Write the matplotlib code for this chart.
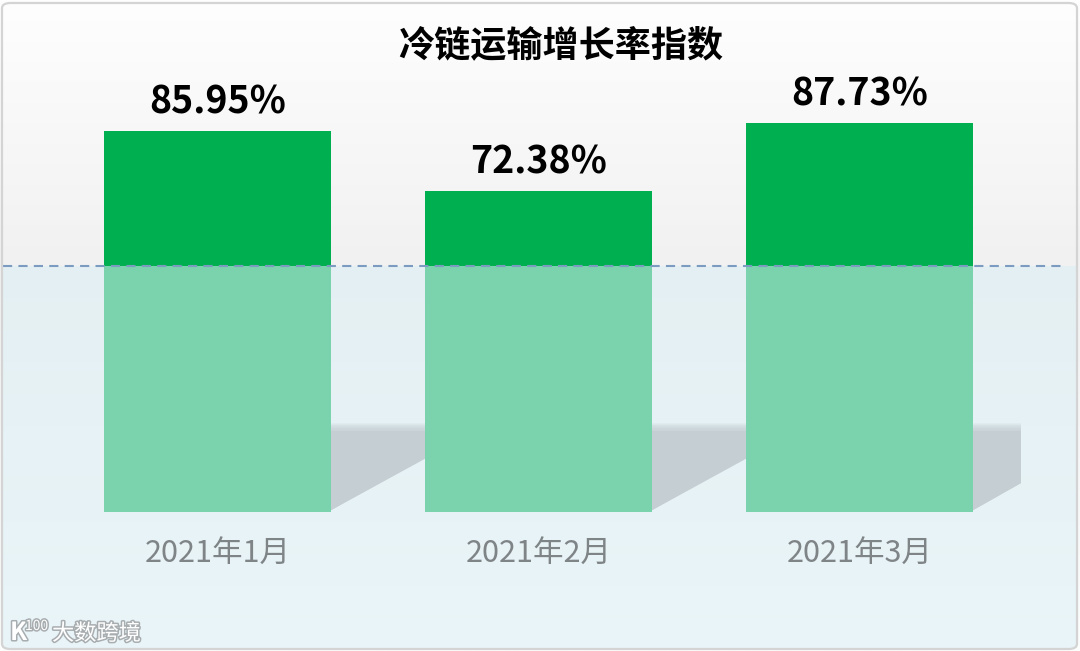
import matplotlib
matplotlib.use("Agg")
import matplotlib.pyplot as plt
import numpy as np
from matplotlib.patches import Rectangle, Polygon, FancyBboxPatch
from matplotlib.colors import to_rgb
import matplotlib.patheffects as pe

plt.rcParams['font.family'] = ['Noto Sans CJK SC', 'DejaVu Sans']

# ---- data ----
title = "冷链运输增长率指数"
categories = ["2021年1月", "2021年2月", "2021年3月"]
values = [85.95, 72.38, 87.73]
value_labels = ["85.95%", "72.38%", "87.73%"]

W, H = 1080, 651
fig = plt.figure(figsize=(W / 100, H / 100), dpi=100)
ax = fig.add_axes([0, 0, 1, 1])
ax.set_axis_off()

# axis scaling (pixel layout)
px_per_cat = 321.0
x0_px = 217.5
base_px = 512.0
px_per_unit = 4.43
xmin = -x0_px / px_per_cat
xmax = (W - x0_px) / px_per_cat
ymin = -(H - base_px) / px_per_unit
ymax = base_px / px_per_unit
ax.set_xlim(xmin, xmax)
ax.set_ylim(ymin, ymax)

# ---- background gradient ----
line_frac = 266.0 / H  # from top
n = 400
t = np.linspace(0, 1, n)
top = np.array(to_rgb("#FEFEFE"))
mid = np.array(to_rgb("#F1F1F1"))
bot = np.array(to_rgb("#FCFDFD"))
cols = np.zeros((n, 1, 3))
for i, tt in enumerate(t):
    if tt <= line_frac:
        f = tt / line_frac
        cols[i, 0] = top * (1 - f) + mid * f
    else:
        f = (tt - line_frac) / (1 - line_frac)
        cols[i, 0] = mid * (1 - f) + bot * f
ax.imshow(cols, extent=[xmin, xmax, ymin, ymax], aspect='auto', zorder=0,
          interpolation='bilinear')

# ---- shadows behind bars ----
bar_w = 227.0 / px_per_cat
shadow_h = 20.0
slope = (29.0 / px_per_unit) / (48.0 / px_per_cat)  # data units y per x
for i, v in enumerate(values):
    r = i + bar_w / 2
    dx = 48.0 / px_per_cat if i == len(values) - 1 else 0.45
    for k in range(6):
        shrink = k * 0.35
        p = [(r - 0.01, 0), (r + dx, min(slope * dx, shadow_h - shrink)),
             (r + dx, shadow_h - shrink), (r - 0.01, shadow_h - shrink)]
        ax.add_patch(Polygon(p, closed=True, facecolor="#A9A5A8", edgecolor='none',
                             alpha=0.28 if k < 5 else 1.0, zorder=1))

# ---- bars ----
x = np.arange(len(categories))
ax.bar(x, values, width=bar_w, color="#00B050", zorder=2)

# ---- translucent overlay on the lower region ----
ov = Rectangle((3 / W, 3 / H), (W - 6) / W, (H - 266 - 3) / H, transform=ax.transAxes,
               facecolor="#DBEFF5", edgecolor='none', alpha=0.56, zorder=3)
ax.add_patch(ov)

# dashed line
ax.plot([3 / W, 1063 / W], [1 - line_frac, 1 - line_frac], transform=ax.transAxes,
        color="#7B9CC0", lw=1.5, dashes=(4.4, 3.0), zorder=4)

# ---- labels ----
for i, (v, lab) in enumerate(zip(values, value_labels)):
    ax.text(i, v + 4.1, lab, ha='center', va='baseline', fontsize=27,
            fontweight='bold', color="#000000", zorder=5)

for i, c in enumerate(categories):
    ax.text(i, -11.2, c, ha='center', va='baseline', fontsize=22,
            color="#7F8487", zorder=5)

fig.text(561 / W, 1 - 46 / H, title, ha='center', va='center', fontsize=26,
         fontweight='bold', color="#000000")

# watermark
wm_fx = [pe.withStroke(linewidth=2.2, foreground="#A8ADB0")]
fig.text(10 / W, 1 - 640 / H, "K", fontsize=18, color="white", fontweight='bold',
         path_effects=wm_fx, va='baseline')
fig.text(25 / W, 1 - 630 / H, "100", fontsize=10, color="white",
         path_effects=wm_fx, va='baseline')
fig.text(52 / W, 1 - 640 / H, "大数跨境", fontsize=16, color="white",
         path_effects=wm_fx, va='baseline')

# border
border = FancyBboxPatch((2 / W, 2 / H), (W - 5) / W, (H - 5) / H,
                        boxstyle="round,pad=0,rounding_size=0.008",
                        transform=fig.transFigure, facecolor='none',
                        edgecolor="#D4D4D4", lw=1.6, zorder=10)
fig.patches.append(border)

fig.savefig("out.png", dpi=100)
